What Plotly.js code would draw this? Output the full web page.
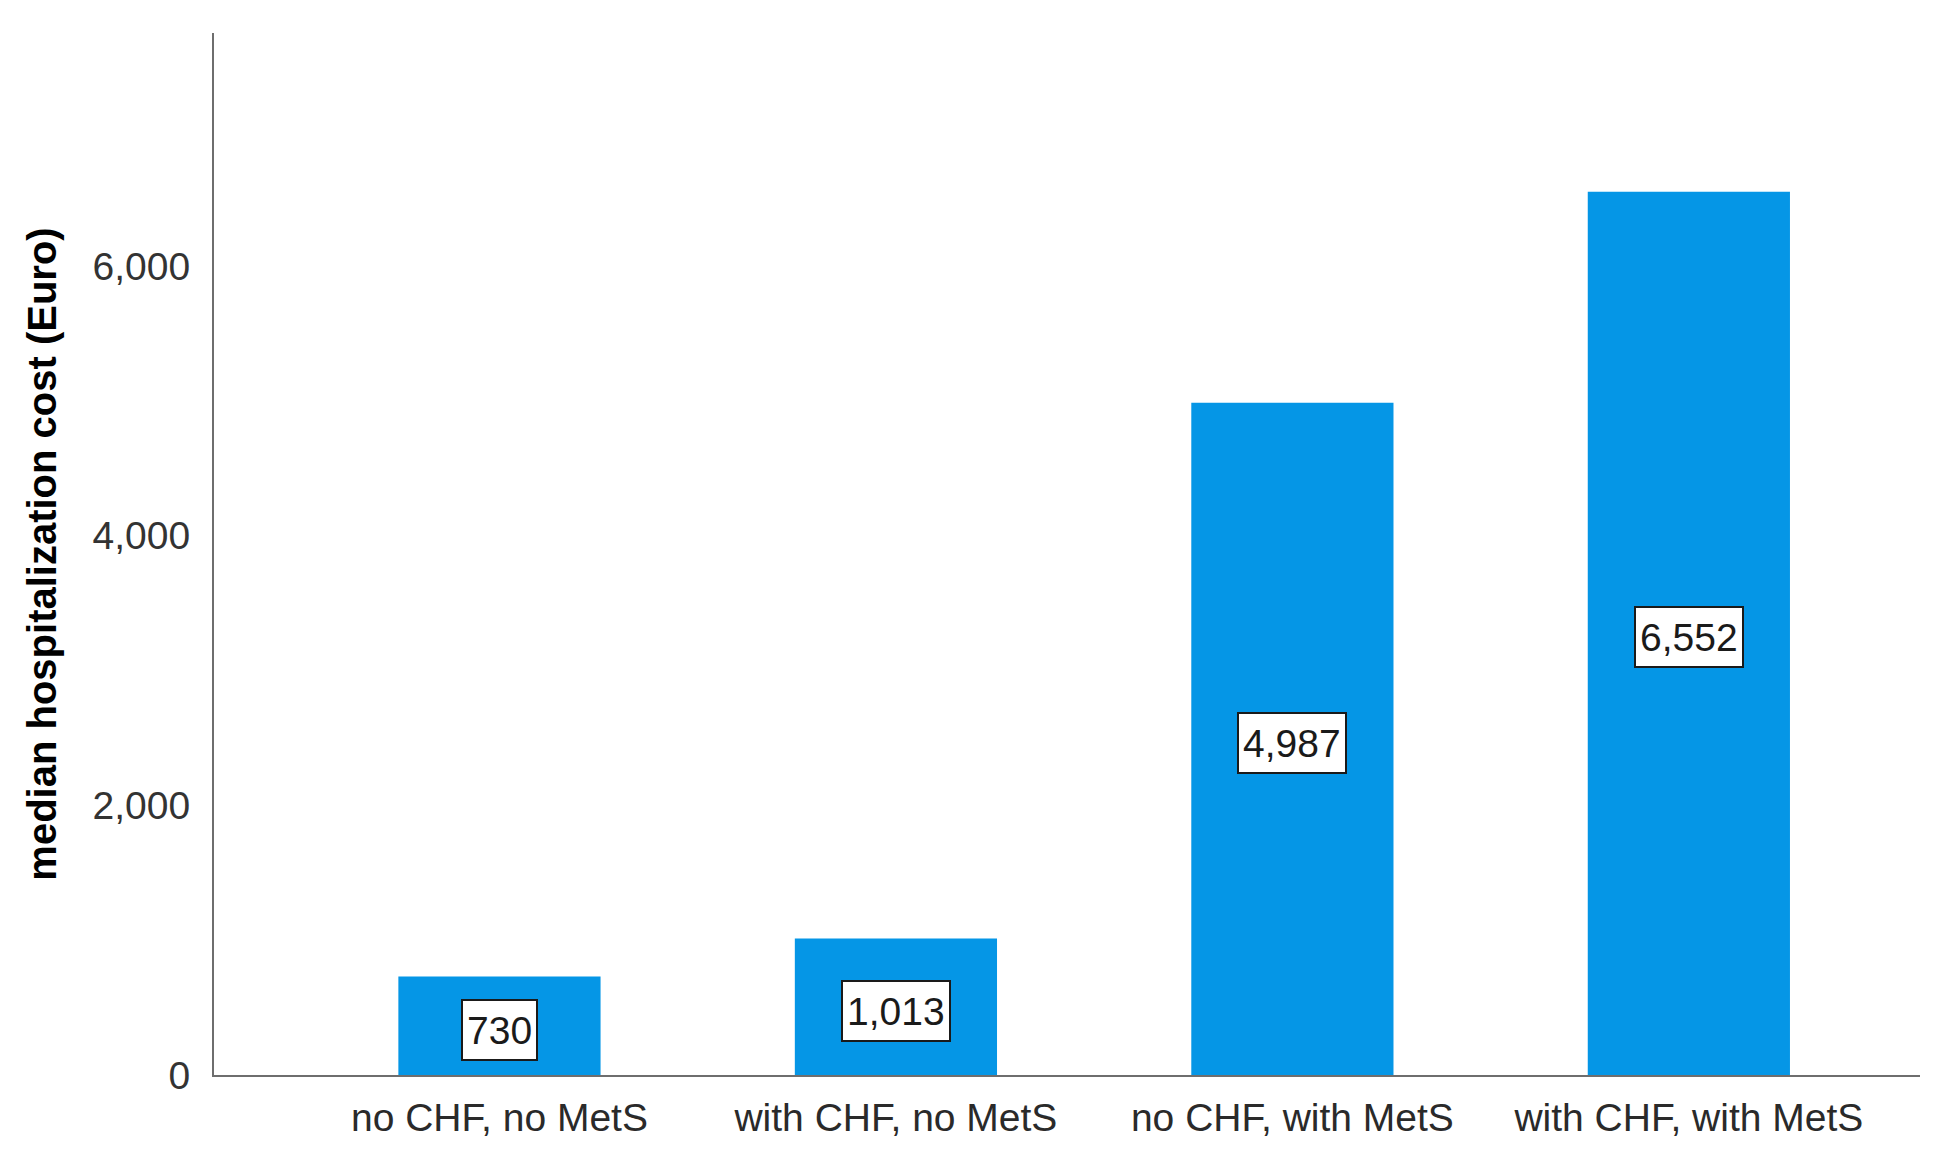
<!DOCTYPE html>
<html>
<head>
<meta charset="utf-8">
<script src="https://cdn.plot.ly/plotly-3.0.1.min.js"></script>
<style>html,body{margin:0;padding:0;background:#fff;}#chart{width:1942px;height:1168px;}</style>
</head>
<body>
<div id="chart"></div>
<script>
const categories = ["no CHF, no MetS", "with CHF, no MetS", "no CHF, with MetS", "with CHF, with MetS"];
const medianCost = [730, 1013, 4987, 6552];
const yTickValues = [0, 2000, 4000, 6000];
const yTitle = "median hospitalization cost (Euro)";

const fontFam = "Liberation Sans, Arial, Helvetica, sans-serif";

const trace = {
  type: "bar",
  x: categories.map((c, i) => i),
  y: medianCost,
  width: 0.51,
  marker: {color: "#0596e6", line: {width: 0}},
  hoverinfo: "skip"
};

const annotations = medianCost.map((v, i) => ({
  x: i, y: v / 2, xref: "x", yref: "y",
  yshift: -4,
  text: v.toLocaleString("en-US"),
  showarrow: false,
  font: {family: fontFam, size: 39, color: "#1a1a1a"},
  bgcolor: "#ffffff",
  bordercolor: "#1a1a1a",
  borderwidth: 2,
  borderpad: 4,
  height: 50
}));

const layout = {
  width: 1942, height: 1168,
  margin: {l: 214, r: 22, t: 33, b: 93},
  paper_bgcolor: "#ffffff",
  plot_bgcolor: "#ffffff",
  showlegend: false,
  font: {family: fontFam, color: "#333333"},
  xaxis: {
    range: [-0.72, 3.583],
    tickmode: "array",
    tickvals: categories.map((c, i) => i),
    ticktext: categories,
    showgrid: false, zeroline: false,
    showline: true, linecolor: "#6e6e6e", linewidth: 2,
    ticks: "",
    ticklabelstandoff: 7,
    tickfont: {family: fontFam, size: 39, color: "#2a2a2a"},
    fixedrange: true
  },
  yaxis: {
    range: [0, 7730],
    tickmode: "array",
    tickvals: yTickValues,
    tickformat: ",d",
    showgrid: false, zeroline: false,
    showline: true, linecolor: "#6e6e6e", linewidth: 2,
    ticks: "",
    ticklabelstandoff: 14,
    tickfont: {family: fontFam, size: 39, color: "#333333"},
    title: {text: yTitle, standoff: 24, font: {family: fontFam, size: 40, color: "#000000", weight: "bold"}},
    fixedrange: true
  },
  annotations: annotations
};

Plotly.newPlot("chart", [trace], layout, {displayModeBar: false, staticPlot: true});
</script>
</body>
</html>
